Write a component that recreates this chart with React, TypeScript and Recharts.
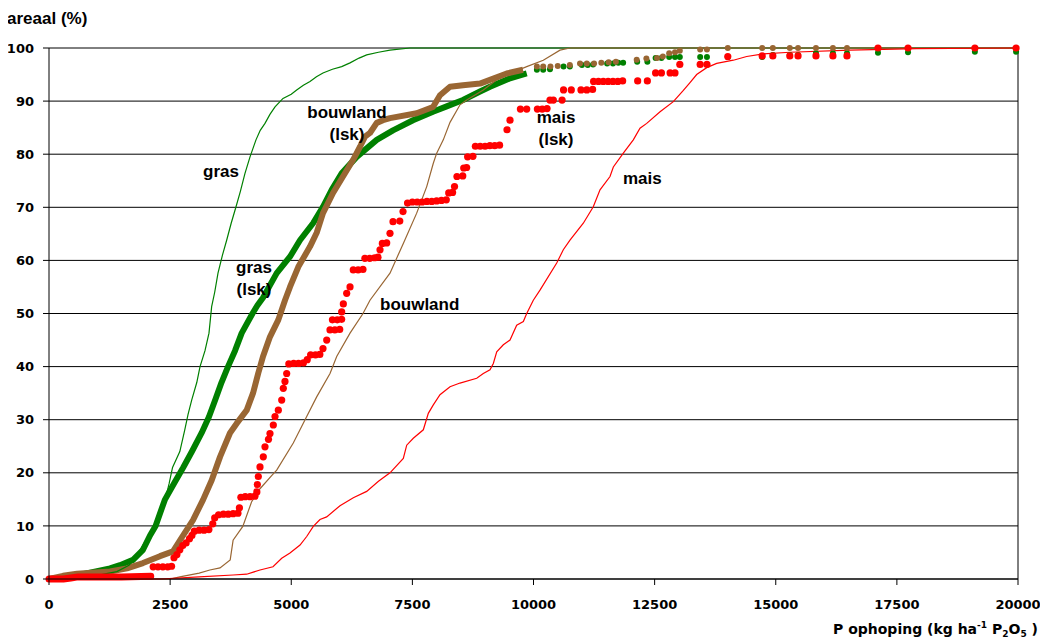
import {
  ComposedChart,
  Line,
  Scatter,
  XAxis,
  YAxis,
  CartesianGrid,
  ReferenceLine,
} from 'recharts';

// Cumulative area (%) against P accumulation (kg ha-1 P2O5)
const xTicks = [0, 2500, 5000, 7500, 10000, 12500, 15000, 17500, 20000];
const yTicks = [0, 10, 20, 30, 40, 50, 60, 70, 80, 90, 100];

// thin lines: gras, bouwland, mais
const gras = [
  [0, 0], [600, 0.3], [1000, 0.7], [1400, 1.4], [1650, 2.6], [1800, 4], [1880, 5.5], [2000, 7.3],
  [2147, 9.5], [2250, 12], [2400, 15], [2480, 18], [2550, 21], [2700, 24], [2800, 28], [2870, 31],
  [2945, 33.7], [3050, 37], [3117, 40], [3220, 43], [3302, 46.3], [3357, 51.3], [3420, 54],
  [3488, 57.6], [3580, 61], [3667, 63.8], [3760, 67], [3860, 70.1], [3950, 73], [4045, 76.4],
  [4149, 79.5], [4272, 82.7], [4360, 84.5], [4458, 85.8], [4560, 87.5], [4665, 88.9], [4830, 90.5],
  [5000, 91.3], [5112, 92.1], [5250, 93], [5387, 93.7], [5520, 94.6], [5655, 95.3], [5850, 96],
  [6041, 96.5], [6213, 97.2], [6400, 98.1], [6557, 98.7], [6800, 99.2], [7038, 99.6], [7451, 100],
  [20000, 100],
];

const bouwland = [
  [0, 0], [2500, 0], [2700, 0.4], [3100, 1.1], [3320, 1.7], [3530, 2.1], [3740, 3.6], [3800, 7.3],
  [4000, 9.9], [4180, 14.5], [4355, 17], [4600, 19.5], [4700, 20.5], [5042, 25.6], [5319, 30.6],
  [5525, 34.3], [5800, 38.7], [5938, 41.9], [6213, 46.3], [6481, 50], [6625, 52.5], [7038, 57.6],
  [7313, 63.2], [7589, 68.9], [7796, 73.9], [7932, 78.3], [8002, 80.2], [8138, 82.7], [8277, 86],
  [8483, 89.3], [8621, 90.2], [8964, 92.1], [9241, 94], [9515, 95.2], [9860, 96.5], [10202, 97.7],
  [10547, 99.6], [10753, 100], [20000, 100],
];

const mais = [
  [0, 0], [2300, 0], [3100, 0.4], [3800, 0.75], [4080, 0.9], [4355, 1.7], [4623, 2.3], [4803, 3.9],
  [4974, 4.9], [5181, 6.4], [5319, 8], [5455, 9.9], [5593, 11.2], [5731, 11.7], [6006, 13.8],
  [6281, 15.3], [6557, 16.5], [6800, 18.4], [7038, 20], [7313, 22.7], [7383, 25.2], [7519, 26.5],
  [7726, 28.1], [7829, 31.2], [7932, 32.8], [8070, 34.7], [8277, 36.2], [8483, 36.9], [8828, 37.8],
  [8964, 38.7], [9102, 39.4], [9171, 40.6], [9241, 42.8], [9377, 44.1], [9515, 45], [9653, 47.8],
  [9790, 48.5], [9860, 50], [9996, 52.5], [10134, 54.4], [10479, 59.5], [10615, 62], [10753, 63.8],
  [11028, 67], [11234, 70.1], [11373, 73.3], [11579, 75.8], [11648, 77.6], [11854, 80.2],
  [12060, 82.7], [12198, 84.9], [12337, 85.8], [12612, 88], [12886, 89.9], [13093, 92],
  [13230, 93.5], [13368, 95], [13575, 96.3], [13781, 97.1], [14124, 97.7], [14400, 98.4],
  [14743, 98.9], [15294, 99.2], [16533, 99.6], [17909, 99.9], [20000, 100],
];

// lsk series: dense part drawn as a thick band, sparse part as dots
const grasLskBand = [
  [0, 0], [400, 0.3], [846, 1.2], [1259, 2], [1465, 2.6], [1734, 3.6], [1940, 5.5], [2085, 8.2],
  [2200, 10], [2390, 14.9], [2580, 18], [2770, 21], [2950, 24], [3150, 27.5], [3300, 30.5],
  [3430, 33.7], [3560, 37], [3695, 40], [3840, 43], [3977, 46.3], [4200, 50], [4300, 51.5],
  [4420, 53], [4700, 57.6], [4974, 60.7], [5180, 63.8], [5450, 67], [5655, 70.1], [5835, 73.3],
  [6041, 76.4], [6351, 79.5], [6764, 82.7], [7100, 84.5], [7513, 86.4], [7926, 88], [8208, 89],
  [8545, 90.2], [8896, 91.8], [9102, 92.7], [9515, 94.3], [9860, 95.2],
];

const grasLskDots = [
  [10070, 95.9], [10200, 95.9], [10340, 96], [10620, 96.5], [10750, 96.5], [11000, 96.8],
  [11120, 96.8], [11230, 96.9], [11520, 97.1], [11640, 97.1], [11750, 97.2], [11850, 97.2],
  [12140, 97.4], [12350, 97.4], [12520, 98.1], [12640, 98.1], [12800, 98.3], [12920, 98.3],
  [13020, 98.3], [13440, 98.3], [13580, 98.3], [14010, 98.3], [14720, 98.3], [14940, 98.7],
  [15290, 98.7], [15460, 98.7], [15830, 99], [16180, 99], [16470, 99], [17110, 99.1],
  [17730, 99.2], [19110, 99.3], [19960, 99.3],
];

const bouwlandLskBand = [
  [0, 0], [290, 0.6], [580, 1], [1260, 1.4], [1610, 2], [1940, 3], [2290, 4.3], [2560, 5.2],
  [2704, 7.3], [2972, 11.1], [3179, 14.9], [3358, 18.6], [3530, 23], [3736, 27.5], [3874, 29.3],
  [4081, 31.8], [4211, 35], [4320, 38.8], [4417, 41.9], [4561, 45.6], [4733, 48.8], [4871, 52.5],
  [4974, 55], [5146, 58.8], [5387, 62.6], [5525, 65.2], [5655, 68.9], [5862, 72.7], [6068, 75.8],
  [6275, 78.9], [6419, 81.4], [6522, 83.3], [6625, 84], [6764, 85.9], [6894, 86.4], [7038, 86.8],
  [7589, 87.7], [7926, 88.9], [8070, 91.1], [8277, 92.7], [8545, 93], [8896, 93.3], [9102, 94],
  [9447, 95.2], [9783, 95.9],
];

const bouwlandLskDots = [
  [10070, 96.5], [10200, 96.5], [10350, 96.5], [10500, 96.6], [10750, 96.8], [10960, 97.1],
  [11100, 97.1], [11250, 97.1], [11400, 97.2], [11550, 97.3], [11700, 97.4], [12130, 97.8],
  [12330, 98], [12550, 98.1], [12670, 98.4], [12800, 99], [12920, 99.2], [13020, 99.5],
  [13440, 99.7], [13580, 99.7], [14010, 100], [14720, 100], [14940, 100], [15290, 100],
  [15460, 100], [15830, 100], [16180, 100], [16470, 100],
];

// mais (lsk): the low run along the x axis is packed tight, so it is a band too
const maisLskBand = [
  [0, 0], [300, 0], [450, 0.2], [600, 0.4], [1500, 0.4], [2100, 0.5],
];

const maisLskDots = [
  [2150, 2.3], [2250, 2.3], [2350, 2.3], [2450, 2.3], [2530, 2.4], [2580, 4], [2640, 4.6],
  [2700, 5.5], [2760, 6.3], [2830, 6.8], [2900, 7.6], [2950, 8.2], [3000, 9], [3100, 9.2],
  [3200, 9.2], [3300, 9.3], [3380, 10.4], [3420, 11.5], [3500, 12.1], [3600, 12.2], [3700, 12.2],
  [3800, 12.3], [3900, 12.4], [3930, 13.4], [3960, 15.4], [4050, 15.5], [4150, 15.5], [4250, 15.6],
  [4290, 16.4], [4300, 17.8], [4320, 19.3], [4355, 21.1], [4423, 23], [4458, 24.9], [4530, 26.3],
  [4561, 27.4], [4630, 29], [4665, 30.6], [4733, 31.8], [4803, 33.7], [4836, 35.9], [4871, 37.2],
  [4906, 38.7], [4950, 40.5], [5050, 40.6], [5150, 40.6], [5250, 40.7], [5330, 41.3], [5400, 42.2],
  [5500, 42.2], [5590, 42.3], [5655, 43.4], [5732, 45], [5800, 46.9], [5900, 46.9], [6000, 47],
  [5850, 48.8], [5950, 48.8], [6040, 48.9], [6041, 50.3], [6075, 51.8], [6144, 53.8], [6213, 55],
  [6280, 58.2], [6380, 58.2], [6480, 58.3], [6520, 60.4], [6620, 60.4], [6720, 60.5], [6790, 60.6],
  [6832, 62], [6880, 63.2], [6970, 63.3], [7038, 65.1], [7100, 67.3], [7240, 67.4], [7307, 69.2],
  [7400, 70.8], [7500, 71], [7600, 71], [7700, 71], [7800, 71.1], [7900, 71.1], [8000, 71.2],
  [8100, 71.3], [8200, 71.4], [8250, 72.7], [8330, 72.8], [8370, 73.9], [8420, 75.8], [8540, 75.9],
  [8560, 77.4], [8620, 77.5], [8640, 79.5], [8750, 79.6], [8800, 81.5], [8900, 81.5], [9000, 81.5],
  [9100, 81.6], [9200, 81.6], [9300, 81.7], [9453, 84.6], [9515, 86.4], [9730, 88.5], [9860, 88.5],
  [10080, 88.5], [10180, 88.5], [10280, 88.6], [10340, 90.2], [10410, 90.2], [10590, 90.2],
  [10620, 92.1], [10780, 92.1], [10980, 92.1], [11100, 92.1], [11220, 92.2], [11240, 93.7],
  [11340, 93.7], [11440, 93.7], [11540, 93.7], [11640, 93.7], [11740, 93.7], [11840, 93.8],
  [12150, 93.8], [12350, 93.8], [12520, 95.3], [12640, 95.3], [12820, 95.3], [12920, 95.3],
  [13020, 96.9], [13440, 96.9], [13580, 96.9], [14010, 98.4], [14720, 98.5], [14940, 98.5],
  [15290, 98.5], [15460, 98.5], [15830, 98.5], [16180, 98.5], [16470, 98.5], [17110, 100],
  [17730, 100], [19110, 100], [19960, 100],
];

const GREEN = '#008000';
const BROWN = '#996633';
const RED = '#ff0000';

const pts = (a: number[][]) => a.map(([x, y]) => ({ x, y }));

const dot = (r: number, fill: string) => (props: any) =>
  <circle cx={props.cx} cy={props.cy} r={r} fill={fill} />;

const tickFont = { fill: '#000', fontFamily: 'DejaVu Sans', fontWeight: 'bold', fontSize: 13 };
const labelFont = { fontFamily: 'Liberation Sans, Arial, sans-serif', fontWeight: 'bold', fontSize: 17, fill: '#000' };

export default function App() {
  return (
    <div style={{ position: 'relative', width: 1040, height: 631 }}>
      <ComposedChart width={1040} height={631} margin={{ top: 40, right: 30, bottom: 0, left: 0 }}>
        <CartesianGrid vertical={false} stroke="#000" />
        <XAxis
          type="number"
          dataKey="x"
          domain={[0, 20000]}
          ticks={xTicks}
          interval={0}
          height={60}
          stroke="#000"
          tickSize={6}
          tickMargin={15}
          tick={tickFont}
        />
        <YAxis
          type="number"
          dataKey="y"
          domain={[0, 100]}
          ticks={yTicks}
          interval={0}
          width={41}
          stroke="#000"
          tickSize={6}
          tickMargin={9}
          tick={tickFont}
        />
        <ReferenceLine x={20000} stroke="#000" />

        <Line data={pts(grasLskBand)} dataKey="y" stroke={GREEN} strokeWidth={6} strokeLinejoin="round" dot={false} isAnimationActive={false} />
        <Line data={pts(bouwlandLskBand)} dataKey="y" stroke={BROWN} strokeWidth={6} strokeLinejoin="round" dot={false} isAnimationActive={false} />

        <Line data={pts(gras)} dataKey="y" stroke={GREEN} strokeWidth={1.2} dot={false} isAnimationActive={false} />
        <Line data={pts(bouwland)} dataKey="y" stroke={BROWN} strokeWidth={1.2} dot={false} isAnimationActive={false} />
        <Line data={pts(mais)} dataKey="y" stroke={RED} strokeWidth={1.2} dot={false} isAnimationActive={false} />

        <Line data={pts(maisLskBand)} dataKey="y" stroke={RED} strokeWidth={7} strokeLinecap="round" dot={false} isAnimationActive={false} />
        <Scatter data={pts(grasLskDots)} dataKey="y" shape={dot(3, GREEN)} isAnimationActive={false} />
        <Scatter data={pts(bouwlandLskDots)} dataKey="y" shape={dot(3, BROWN)} isAnimationActive={false} />
        <Scatter data={pts(maisLskDots)} dataKey="y" shape={dot(3.6, RED)} isAnimationActive={false} />
      </ComposedChart>

      <svg
        width={1048}
        height={639}
        style={{ position: 'absolute', left: -8, top: -8, pointerEvents: 'none', overflow: 'visible' }}
      >
        <text x={7} y={24} {...labelFont}>areaal (%)</text>

        <text x={203} y={177} {...labelFont}>gras</text>
        <text x={254} y={273} textAnchor="middle" {...labelFont}>gras</text>
        <text x={254} y={295} textAnchor="middle" {...labelFont}>(lsk)</text>
        <text x={347} y={118} textAnchor="middle" {...labelFont}>bouwland</text>
        <text x={347} y={140} textAnchor="middle" {...labelFont}>(lsk)</text>
        <text x={380} y={310} {...labelFont}>bouwland</text>
        <text x={556} y={123} textAnchor="middle" {...labelFont}>mais</text>
        <text x={556} y={145} textAnchor="middle" {...labelFont}>(lsk)</text>
        <text x={623} y={184} {...labelFont}>mais</text>

        <text x={833} y={634} fontFamily="DejaVu Sans" fontWeight="bold" fontSize={14} fill="#000">
          P ophoping (kg ha
          <tspan dy={-6} fontSize={9}>-1</tspan>
          <tspan dy={6}> P</tspan>
          <tspan dy={3} fontSize={9}>2</tspan>
          <tspan dy={-3}>O</tspan>
          <tspan dy={3} fontSize={9}>5</tspan>
          <tspan dy={-3}> )</tspan>
        </text>
      </svg>
    </div>
  );
}
